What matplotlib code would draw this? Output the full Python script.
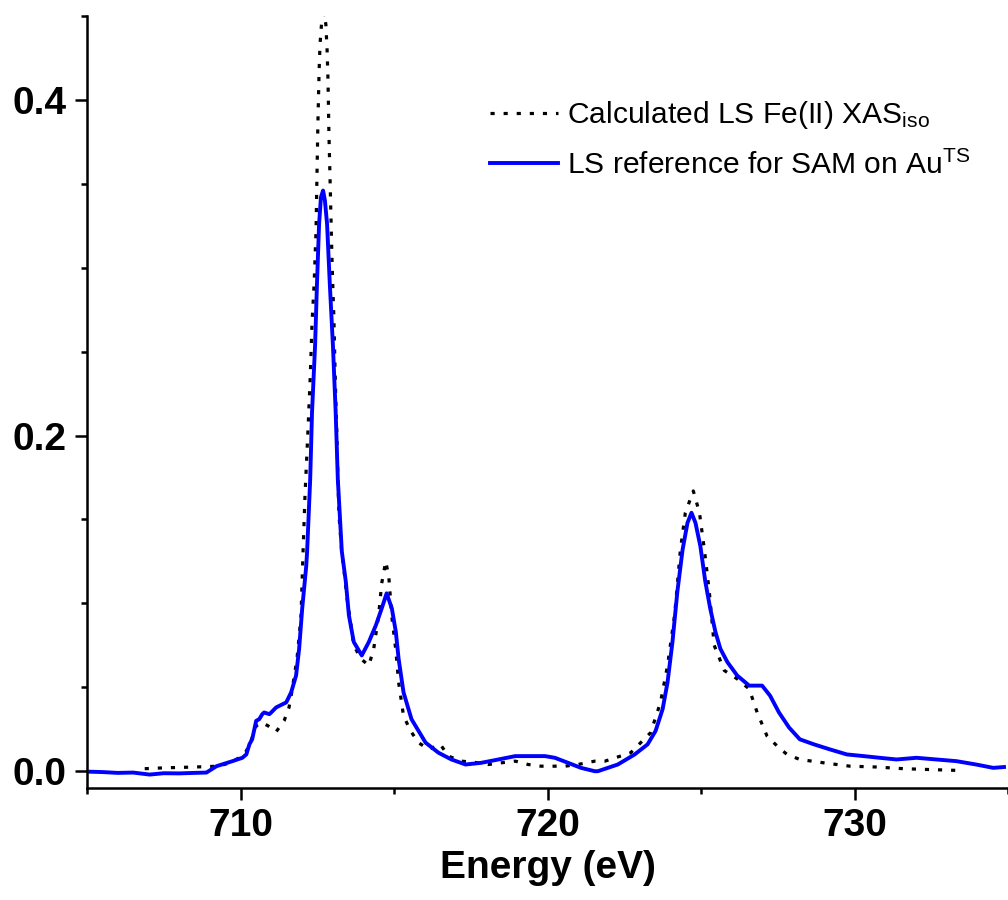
import matplotlib
matplotlib.use('Agg')
import matplotlib.pyplot as plt
from matplotlib.ticker import MultipleLocator

plt.rcParams['font.family'] = ['Liberation Sans', 'DejaVu Sans']
plt.rcParams['mathtext.fontset'] = 'custom'
plt.rcParams['mathtext.rm'] = 'Liberation Sans'
plt.rcParams['mathtext.it'] = 'Liberation Sans:italic'
plt.rcParams['mathtext.bf'] = 'Liberation Sans:bold'

# calculated LS Fe(II) XAS_iso (dotted)
calc_energy = [
	706.88, 707.5, 708.5, 709.3, 709.64, 709.96, 710.19, 710.38, 710.51, 710.7,
	710.9, 711.16, 711.42, 711.58, 711.65, 711.84, 711.97, 712.04, 712.07, 712.10,
	712.14, 712.20, 712.27, 712.33, 712.40, 712.46, 712.49, 712.52, 712.56, 712.59,
	712.65, 712.72, 712.78, 712.82, 712.85, 712.88, 712.91, 712.94, 712.98, 713.01,
	713.04, 713.07, 713.10, 713.14, 713.17, 713.21, 713.30, 713.37, 713.47, 713.60,
	713.69, 713.92, 714.18, 714.34, 714.50, 714.60, 714.73, 714.83, 714.93, 715.06,
	715.15, 715.31, 715.54, 715.80, 716.13, 716.51, 716.77, 717.20, 717.65, 718.07,
	718.49, 718.95, 719.37, 719.79, 720.24, 720.57, 720.99, 721.54, 721.87, 722.71,
	723.36, 723.68, 723.91, 724.14, 724.33, 724.49, 724.75, 724.95, 725.11, 725.27,
	725.43, 725.76, 726.18, 726.57, 726.83, 727.15, 727.48, 727.80, 728.22, 729.00,
	729.85, 730.72, 731.60, 732.44, 733.32,
]
calc_xas = [
	0.0015, 0.002, 0.0025, 0.003, 0.005, 0.008, 0.012, 0.020, 0.027, 0.029,
	0.027, 0.0235, 0.030, 0.038, 0.045, 0.067, 0.092, 0.132, 0.148, 0.164,
	0.180, 0.204, 0.234, 0.267, 0.291, 0.322, 0.354, 0.385, 0.417, 0.433,
	0.448, 0.452, 0.445, 0.430, 0.412, 0.380, 0.358, 0.335, 0.305, 0.287,
	0.271, 0.247, 0.224, 0.200, 0.176, 0.152, 0.130, 0.120, 0.103, 0.087,
	0.075, 0.067, 0.063, 0.073, 0.093, 0.112, 0.125, 0.116, 0.092, 0.072,
	0.053, 0.033, 0.024, 0.017, 0.013, 0.016, 0.009, 0.006, 0.0052, 0.004,
	0.005, 0.006, 0.004, 0.003, 0.003, 0.003, 0.004, 0.006, 0.006, 0.011,
	0.023, 0.041, 0.063, 0.093, 0.132, 0.154, 0.167, 0.154, 0.132, 0.107,
	0.075, 0.060, 0.055, 0.049, 0.035, 0.021, 0.015, 0.010, 0.007, 0.005,
	0.003, 0.0025, 0.0015, 0.001, 0.0005,
]

# LS reference for SAM on Au^TS (solid blue)
ref_energy = [
	705.10, 705.5, 706.0, 706.5, 707.04, 707.5, 708.0, 708.5, 708.89, 709.22,
	709.74, 710.06, 710.19, 710.29, 710.38, 710.51, 710.61, 710.71, 710.77, 710.94,
	711.0, 711.16, 711.49, 711.65, 711.81, 711.91, 712.01, 712.14, 712.17, 712.27,
	712.33, 712.43, 712.49, 712.56, 712.62, 712.69, 712.75, 712.82, 712.91, 713.01,
	713.10, 713.17, 713.30, 713.43, 713.53, 713.69, 713.95, 714.18, 714.41, 714.60,
	714.76, 714.93, 715.06, 715.15, 715.31, 715.57, 716.03, 716.45, 716.87, 717.33,
	717.84, 718.40, 718.95, 719.47, 719.92, 720.24, 720.67, 721.09, 721.54, 721.64,
	722.29, 722.84, 723.26, 723.52, 723.75, 723.91, 724.07, 724.23, 724.40, 724.56,
	724.69, 724.82, 724.98, 725.14, 725.30, 725.47, 725.63, 725.86, 726.18, 726.57,
	726.99, 727.25, 727.54, 727.87, 728.22, 728.68, 729.20, 729.75, 730.30, 730.82,
	731.37, 732.02, 732.67, 733.32, 733.96, 734.52, 734.87,
]
ref_xas = [
	-0.0003, -0.0005, -0.001, -0.0008, -0.002, -0.0012, -0.0013, -0.001, -0.0008, 0.003,
	0.006, 0.008, 0.010, 0.016, 0.019, 0.030, 0.031, 0.034, 0.035, 0.034,
	0.035, 0.038, 0.041, 0.047, 0.057, 0.073, 0.097, 0.122, 0.131, 0.174,
	0.214, 0.254, 0.290, 0.326, 0.342, 0.346, 0.340, 0.326, 0.290, 0.254,
	0.214, 0.174, 0.131, 0.113, 0.093, 0.077, 0.069, 0.077, 0.087, 0.097,
	0.106, 0.097, 0.083, 0.067, 0.047, 0.031, 0.017, 0.011, 0.007, 0.004,
	0.005, 0.007, 0.009, 0.009, 0.009, 0.008, 0.005, 0.002, 0.0, 0.0,
	0.004, 0.010, 0.016, 0.024, 0.037, 0.053, 0.077, 0.107, 0.132, 0.148,
	0.154, 0.148, 0.134, 0.113, 0.097, 0.083, 0.073, 0.065, 0.057, 0.051,
	0.051, 0.045, 0.035, 0.026, 0.019, 0.016, 0.013, 0.010, 0.009, 0.008,
	0.007, 0.008, 0.007, 0.006, 0.004, 0.002, 0.0025,
]


def main():
	fig = plt.figure(figsize=(10.08, 9), dpi=100)
	ax = fig.add_axes([87 / 1008, 1 - 788 / 900, 921 / 1008, 772 / 900])

	ax.plot(calc_energy, calc_xas, color='black', linewidth=2.3,
			linestyle=(0, (1.3, 2.8)), label=r'Calculated LS Fe(II) XAS$_\mathrm{iso}$')
	ax.plot(ref_energy, ref_xas, color='#0000ff', linewidth=2.8,
			label=r'LS reference for SAM on Au$^\mathrm{TS}$')

	ax.set_xlim(705, 735)
	ax.set_ylim(-0.01, 0.45)
	ax.xaxis.set_major_locator(MultipleLocator(10))
	ax.xaxis.set_minor_locator(MultipleLocator(5))
	ax.yaxis.set_major_locator(MultipleLocator(0.2))
	ax.yaxis.set_minor_locator(MultipleLocator(0.05))
	ax.yaxis.set_major_formatter(lambda v, pos: f'{v:.1f}')

	for side in ('top', 'right'):
		ax.spines[side].set_visible(False)
	for side in ('left', 'bottom'):
		ax.spines[side].set_linewidth(1.8)

	ax.tick_params(which='major', direction='out', length=8.6, width=1.8,
				   labelsize=28, pad=6)
	ax.tick_params(which='minor', direction='out', length=4.3, width=1.8)
	for lbl in ax.get_xticklabels() + ax.get_yticklabels():
		lbl.set_fontweight('bold')

	ax.set_xlabel('Energy (eV)', fontsize=28, fontweight='bold', labelpad=4)

	ax.legend(loc='upper left', bbox_to_anchor=(490 / 1008, 1 - 99 / 900),
			  bbox_transform=fig.transFigure, frameon=False, fontsize=21.6,
			  borderpad=0, borderaxespad=0, handlelength=2.27, handletextpad=0.3,
			  labelspacing=0.65)

	fig.savefig('out.png', dpi=100)


if __name__ == '__main__':
	main()
